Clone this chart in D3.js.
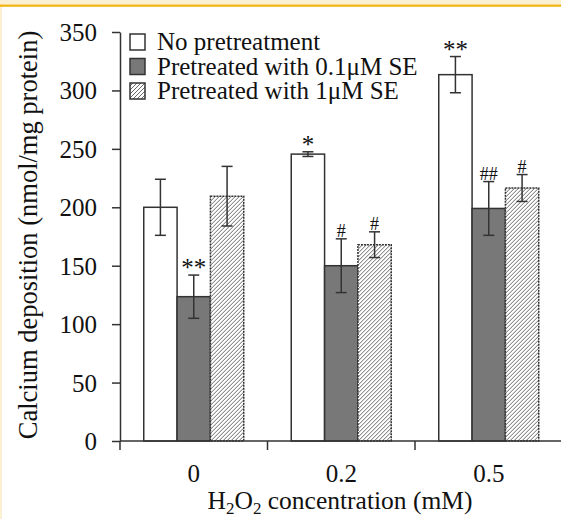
<!DOCTYPE html>
<html>
<head>
<meta charset="utf-8">
<script src="https://cdn.jsdelivr.net/npm/d3@7/dist/d3.min.js"></script>
<style>
  html, body { margin: 0; padding: 0; background: #fff; }
  svg { display: block; }
  text { font-family: "Liberation Serif", "Times New Roman", serif; fill: #111; }
</style>
</head>
<body>
<svg id="chart" width="561" height="519"></svg>
<script>
// ---- data ----
const categories = ["0", "0.2", "0.5"];
const seriesNames = ["No pretreatment", "Pretreated with 0.1\u03BCM SE", "Pretreated with 1\u03BCM SE"];
const noPretreatment = [200, 245.5, 313.5];
const noPretreatmentErr = [24, 2, 15.5];
const pretreated01 = [123.5, 150, 199];
const pretreated01Err = [18.5, 23, 23];
const pretreated1 = [209.5, 168, 216.5];
const pretreated1Err = [25.5, 11, 11.5];
const noPretreatmentSig = ["", "*", "**"];
const pretreated01Sig = ["**", "#", "##"];
const pretreated1Sig = ["", "#", "#"];
const yTicks = [0, 50, 100, 150, 200, 250, 300, 350];

const seriesValues = [noPretreatment, pretreated01, pretreated1];
const seriesErrs = [noPretreatmentErr, pretreated01Err, pretreated1Err];
const seriesSigs = [noPretreatmentSig, pretreated01Sig, pretreated1Sig];

const svg = d3.select("#chart");

// decorative frame
svg.append("rect").attr("x", 0).attr("y", 0).attr("width", 561).attr("height", 4.5).attr("fill", "#fcf0d2");
svg.append("rect").attr("x", 0).attr("y", 0).attr("width", 2).attr("height", 519).attr("fill", "#fcf0d2");
svg.append("rect").attr("x", 0).attr("y", 4.5).attr("width", 561).attr("height", 2.3).attr("fill", "#f2b612");

const defs = svg.append("defs");
const pat = defs.append("pattern").attr("id", "hatch").attr("patternUnits", "userSpaceOnUse")
  .attr("width", 4).attr("height", 4);
pat.append("rect").attr("width", 4).attr("height", 4).attr("fill", "#fff");
pat.append("path").attr("d", "M-1,1 l2,-2 M0,4 l4,-4 M3,5 l2,-2")
  .attr("stroke", "#6a6a6a").attr("stroke-width", 1);

const fills = ["#ffffff", "#787878", "url(#hatch)"];
const strokeDash = [null, null, "2,1"];

const plotLeft = 120, plotRight = 562.5, plotTop = 32, plotBottom = 441;

const y = d3.scaleLinear().domain([0, 350]).range([plotBottom, plotTop]);
const x0 = d3.scaleBand().domain(categories).range([plotLeft, plotRight]).paddingInner(0.322).paddingOuter(0.161);
const x1 = d3.scaleBand().domain(d3.range(seriesNames.length)).range([0, x0.bandwidth()]).padding(0);

// y axis
const yAxis = svg.append("g").attr("transform", `translate(${plotLeft},0)`)
  .call(d3.axisLeft(y).tickValues(yTicks).tickSize(8).tickPadding(15).tickSizeOuter(0));
yAxis.select(".domain").attr("stroke", "#333").attr("stroke-width", 1.5);
yAxis.selectAll(".tick line").attr("stroke", "#333").attr("stroke-width", 1.5);
yAxis.selectAll(".tick text").style("font-family", "Liberation Serif, serif").style("font-size", "25px").attr("fill", "#111").attr("dy", "0.34em");

// bars
categories.forEach((c, ci) => {
  const g = svg.append("g").attr("transform", `translate(${x0(c)},0)`);
  seriesNames.forEach((s, si) => {
    const v = seriesValues[si][ci];
    g.append("rect")
      .attr("x", x1(si)).attr("y", y(v))
      .attr("width", x1.bandwidth()).attr("height", y(0) - y(v))
      .attr("fill", fills[si]).attr("stroke", "#333").attr("stroke-width", 1.5)
      .attr("stroke-dasharray", strokeDash[si]);
  });
  seriesNames.forEach((s, si) => {
    const v = seriesValues[si][ci], e = seriesErrs[si][ci];
    const cx = x1(si) + x1.bandwidth() / 2;
    const eg = g.append("g").attr("stroke", "#333").attr("stroke-width", 1.5);
    eg.append("line").attr("x1", cx).attr("x2", cx).attr("y1", y(v + e)).attr("y2", y(v - e));
    eg.append("line").attr("x1", cx - 5.5).attr("x2", cx + 5.5).attr("y1", y(v + e)).attr("y2", y(v + e));
    eg.append("line").attr("x1", cx - 5.5).attr("x2", cx + 5.5).attr("y1", y(v - e)).attr("y2", y(v - e));
    const sig = seriesSigs[si][ci];
    if (sig) {
      const isStar = sig.indexOf("*") >= 0;
      g.append("text").attr("x", cx).attr("y", y(v + e) + (isStar ? 1 : -2))
        .attr("text-anchor", "middle")
        .style("font-size", isStar ? "25px" : "18px")
        .text(sig);
    }
  });
});

// x axis
const xa = svg.append("g");
xa.append("line").attr("x1", plotLeft).attr("x2", plotRight).attr("y1", plotBottom).attr("y2", plotBottom)
  .attr("stroke", "#333").attr("stroke-width", 1.5);
const boundaries = [plotLeft].concat(categories.map(c => x0(c) + x0.bandwidth() + x0.step() * 0.161));
boundaries.forEach(bx => {
  xa.append("line").attr("x1", bx).attr("x2", bx).attr("y1", plotBottom).attr("y2", plotBottom + 9)
    .attr("stroke", "#333").attr("stroke-width", 1.5);
});
categories.forEach(c => {
  xa.append("text").attr("x", x0(c) + x0.bandwidth() / 2).attr("y", 482)
    .attr("text-anchor", "middle").style("font-size", "25px").text(c);
});

// axis titles
const xt = svg.append("text").attr("x", 340).attr("y", 509).attr("text-anchor", "middle").style("font-size", "25.5px");
xt.append("tspan").text("H");
xt.append("tspan").attr("dy", 5).style("font-size", "17px").text("2");
xt.append("tspan").attr("dy", -5).text("O");
xt.append("tspan").attr("dy", 5).style("font-size", "17px").text("2");
xt.append("tspan").attr("dy", -5).text(" concentration (mM)");

svg.append("text").attr("transform", "translate(37,235) rotate(-90)")
  .attr("text-anchor", "middle").style("font-size", "26.5px")
  .text("Calcium deposition (nmol/mg protein)");

// legend
const legend = svg.append("g");
seriesNames.forEach((s, i) => {
  legend.append("rect").attr("x", 130).attr("y", 34 + i * 24.5).attr("width", 15).attr("height", 16)
    .attr("fill", fills[i]).attr("stroke", "#333").attr("stroke-width", 1.5);
  legend.append("text").attr("x", 157).attr("y", 50 + i * 24.5).style("font-size", "25px").text(s);
});
</script>
</body>
</html>
